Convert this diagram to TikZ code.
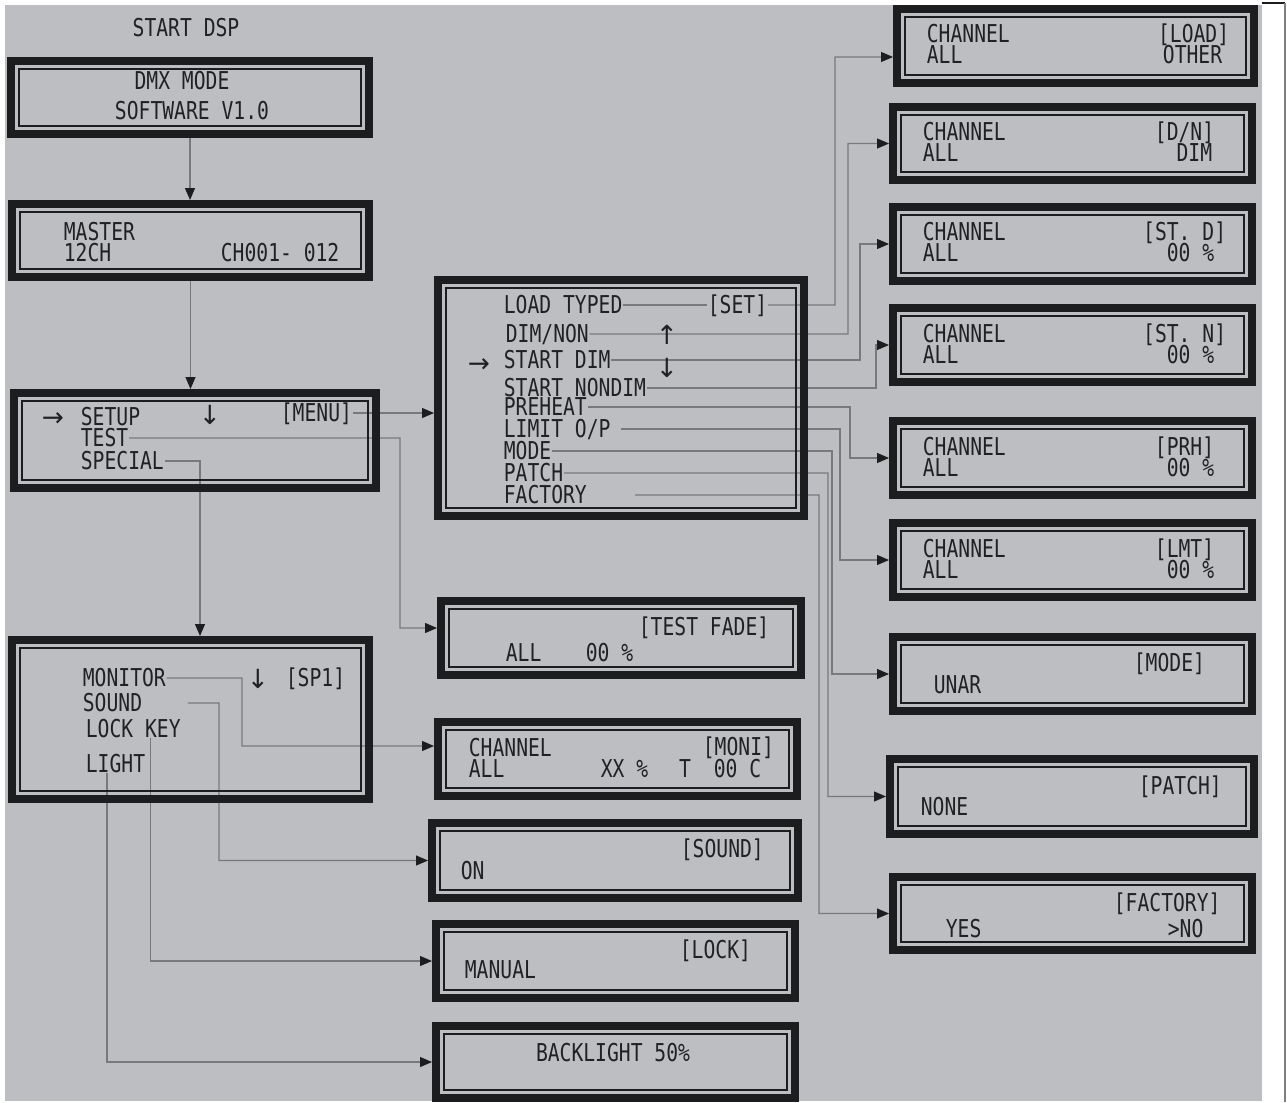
\documentclass[tikz,border=0pt]{standalone}
\usepackage{fontspec}
\usepackage{xcolor}
\usepackage{tikz}
\usetikzlibrary{arrows.meta, fit}
\newfontfamily\lcdfont[FakeStretch=0.8]{DejaVu Sans Mono}
\newfontfamily\lcdarrows{DejaVu Sans}
\definecolor{panelgray}{HTML}{BCBEC1}
\definecolor{lcdblack}{HTML}{1C1D1F}
\definecolor{wiregray}{HTML}{77797C}
\definecolor{lcdink}{HTML}{202122}
\pgfdeclarelayer{bg}
\pgfdeclarelayer{wires}
\pgfsetlayers{bg,wires,main}

\begin{document}
\begin{tikzpicture}[x=0.02cm, y=-0.02cm,
  lcd/.style={draw=lcdblack, line width=4.5pt, inner sep=0pt,
    path picture={\draw[lcdblack, line width=1.1pt]
      ([shift={(4.8pt,-4.8pt)}]path picture bounding box.north west) rectangle
      ([shift={(-4.8pt,4.8pt)}]path picture bounding box.south east);}},
  lbl/.style={font=\lcdfont\fontsize{14pt}{16pt}\selectfont, text=lcdink,
    inner sep=0.3pt, text height=9.6pt, text depth=0pt},
  lt/.style={lbl, anchor=west},
  rt/.style={lbl, anchor=east},
  arr/.style={lbl, font=\lcdarrows\fontsize{15pt}{17pt}\selectfont},
  wire/.style={draw=wiregray, line width=0.8pt},
  >={Triangle[length=6.8pt, width=5.6pt, color=lcdblack]}]
\useasboundingbox (0,0) rectangle (1287,1102);
\begin{pgfonlayer}{bg}
\fill[panelgray] (5,5) rectangle (1262,1101);
\end{pgfonlayer}
\draw[lcdblack, line width=0.6pt] (1262,3) -- (1285,3);
\draw[gray, line width=0.9pt] (1285,3) -- (1285,1102);

% left column
\node[lbl] (title) at (186,28) {START DSP};
\node[lcd, fit={(11,61)(369,134)}] (dmx) {};
\node[lbl] (dmxa) at (182,81) {DMX MODE};
\node[lbl] (dmxb) at (192,111) {SOFTWARE V1.0};

\node[lcd, fit={(12,204)(369,277)}] (master) {};
\node[lt] (mastera) at (63,232) {MASTER};
\node[lt] (masterb) at (63,253) {12CH};
\node[lt] (masterc) at (220,253) {CH001- 012};

\node[lcd, fit={(14,393)(376,488)}] (menu) {};
\node[arr, anchor=west] (menuptr) at (41,418) {→};
\node[lt] (setup) at (80,417) {SETUP};
\node[arr] (menudn) at (210,416) {↓};
\node[lt] (menutag) at (280,413) {[MENU]};
\node[lt] (test) at (80,438) {TEST};
\node[lt] (special) at (80,461) {SPECIAL};

\node[lcd, fit={(12,640)(369,799)}] (spbox) {};
\node[lt] (monitor) at (82,678) {MONITOR};
\node[arr] (spdn) at (258,680) {↓};
\node[lt] (sptag) at (285,678) {[SP1]};
\node[lt] (sound) at (82,703) {SOUND};
\node[lt] (lockkey) at (85,729) {LOCK KEY};
\node[lt] (light) at (85,764) {LIGHT};

% set menu
\node[lcd, fit={(438,280)(804,516)}] (setbox) {};
\node[lt] (loadtyped) at (503,305) {LOAD TYPED};
\node[lt] (settag) at (707,305) {[SET]};
\node[lt] (dimnon) at (505,334) {DIM/NON};
\node[arr] (setuparr) at (667,336) {↑};
\node[arr, anchor=west] (setptr) at (467,364) {→};
\node[lt] (startdim) at (503,360) {START DIM};
\node[arr] (setdnarr) at (667,369) {↓};
\node[lt] (startnon) at (503,388) {START NONDIM};
\node[lt] (preheat) at (503,407) {PREHEAT};
\node[lt] (limitop) at (503,429) {LIMIT O/P};
\node[lt] (modeitem) at (503,451) {MODE};
\node[lt] (patchitem) at (503,473) {PATCH};
\node[lt] (factitem) at (503,495) {FACTORY};

% middle column
\node[lcd, fit={(441,601)(801,675)}] (tfade) {};
\node[lt] (tfadea) at (638,627) {[TEST FADE]};
\node[lt] (tfadeb) at (505,653) {ALL};
\node[lt] (tfadec) at (585,653) {00 \%};

\node[lcd, fit={(438,722)(797,796)}] (moni) {};
\node[lt] (monia) at (468,748) {CHANNEL};
\node[lt] (monib) at (468,769) {ALL};
\node[lt] (monic) at (702,747) {[MONI]};
\node[lt] (monid) at (600,769) {XX \%};
\node[lbl] (monie) at (685,769) {T};
\node[lt] (monif) at (713,769) {00 C};

\node[lcd, fit={(432,823)(798,898)}] (soundbox) {};
\node[lt] (sounda) at (680,849) {[SOUND]};
\node[lt] (soundb) at (460,871) {ON};

\node[lcd, fit={(436,924)(795,998)}] (lockbox) {};
\node[lt] (locka) at (679,950) {[LOCK]};
\node[lt] (lockb) at (464,970) {MANUAL};

\node[lcd, fit={(436,1026)(795,1098)}] (lightbox) {};
\node[lbl] (lighta) at (613,1053) {BACKLIGHT 50\%};

% right column
\node[lcd, fit={(897,9)(1254,83)}] (rload) {};
\node[lt] (rloada) at (926,34) {CHANNEL};
\node[lt] (rloadb) at (926,55) {ALL};
\node[rt] (rloadc) at (1230,34) {[LOAD]};
\node[rt] (rloadd) at (1223,55) {OTHER};

\node[lcd, fit={(893,107)(1252,180)}] (rdn) {};
\node[lt] (rdna) at (922,132) {CHANNEL};
\node[lt] (rdnb) at (922,153) {ALL};
\node[rt] (rdnc) at (1215,132) {[D/N]};
\node[rt] (rdnd) at (1213,153) {DIM};

\node[lcd, fit={(893,207)(1252,281)}] (rstd) {};
\node[lt] (rstda) at (922,232) {CHANNEL};
\node[lt] (rstdb) at (922,253) {ALL};
\node[rt] (rstdc) at (1227,232) {[ST. D]};
\node[rt] (rstdd) at (1215,253) {00 \%};

\node[lcd, fit={(893,308)(1252,382)}] (rstn) {};
\node[lt] (rstna) at (922,334) {CHANNEL};
\node[lt] (rstnb) at (922,355) {ALL};
\node[rt] (rstnc) at (1227,334) {[ST. N]};
\node[rt] (rstnd) at (1215,355) {00 \%};

\node[lcd, fit={(893,421)(1252,495)}] (rprh) {};
\node[lt] (rprha) at (922,447) {CHANNEL};
\node[lt] (rprhb) at (922,468) {ALL};
\node[rt] (rprhc) at (1215,447) {[PRH]};
\node[rt] (rprhd) at (1215,468) {00 \%};

\node[lcd, fit={(893,523)(1252,597)}] (rlmt) {};
\node[lt] (rlmta) at (922,549) {CHANNEL};
\node[lt] (rlmtb) at (922,570) {ALL};
\node[rt] (rlmtc) at (1215,549) {[LMT]};
\node[rt] (rlmtd) at (1215,570) {00 \%};

\node[lcd, fit={(893,637)(1252,711)}] (rmode) {};
\node[lt] (rmodea) at (1133,663) {[MODE]};
\node[lt] (rmodeb) at (933,685) {UNAR};

\node[lcd, fit={(890,759)(1254,834)}] (rpatch) {};
\node[lt] (rpatcha) at (1138,786) {[PATCH]};
\node[lt] (rpatchb) at (920,807) {NONE};

\node[lcd, fit={(893,877)(1252,950)}] (rfact) {};
\node[lt] (rfacta) at (1113,903) {[FACTORY]};
\node[lt] (rfactb) at (945,929) {YES};
\node[lt] (rfactc) at (1167,929) {>NO};

% connectors
\begin{pgfonlayer}{wires}
\draw[wire, ->] (dmx.south) -- (dmx.south |- master.north);
\draw[wire, ->] (master.south) -- (master.south |- menu.north);
\draw[wire, ->] (menutag.east) -- (menutag.east -| setbox.west);
\draw[wire, ->] (test.east) -| (400,628) -- ([yshift=0.2cm]tfade.west);
\draw[wire, ->] (special.east) -| ([xshift=0.19cm]spbox.north);
\draw[wire, ->] (monitor.east) -| (242,746) -- ([yshift=0.26cm]moni.west);
\draw[wire, ->] ([xshift=0.9cm]sound.east) -| (219,860.5) -- (soundbox.west);
\draw[wire, ->] ([xshift=0.34cm]lockkey.south) |- (lockbox.west);
\draw[wire, ->] ([xshift=-0.17cm]light.south) |- (lightbox.west);

\draw[wire] (loadtyped.east) -- (settag.west);
\draw[wire, ->] (settag.east) -| (835,57) -- ([yshift=-0.22cm]rload.west);
\draw[wire, ->] (dimnon.east) -| (848,143.5) -- (rdn.west);
\draw[wire, ->] (startdim.east) -| (860,244) -- (rstd.west);
\draw[wire, ->] (startnon.east) -| (876,345) -- (rstn.west);
\draw[wire, ->] (preheat.east) -| (850,458) -- (rprh.west);
\draw[wire, ->] ([xshift=0.2cm]limitop.east) -| (840,560) -- (rlmt.west);
\draw[wire, ->] (modeitem.east) -| (832,674) -- (rmode.west);
\draw[wire, ->] (patchitem.east) -| (828,796.5) -- (rpatch.west);
\draw[wire, ->] ([xshift=0.95cm]factitem.east) -| (819,913.5) -- (rfact.west);
\end{pgfonlayer}
\end{tikzpicture}
\end{document}
